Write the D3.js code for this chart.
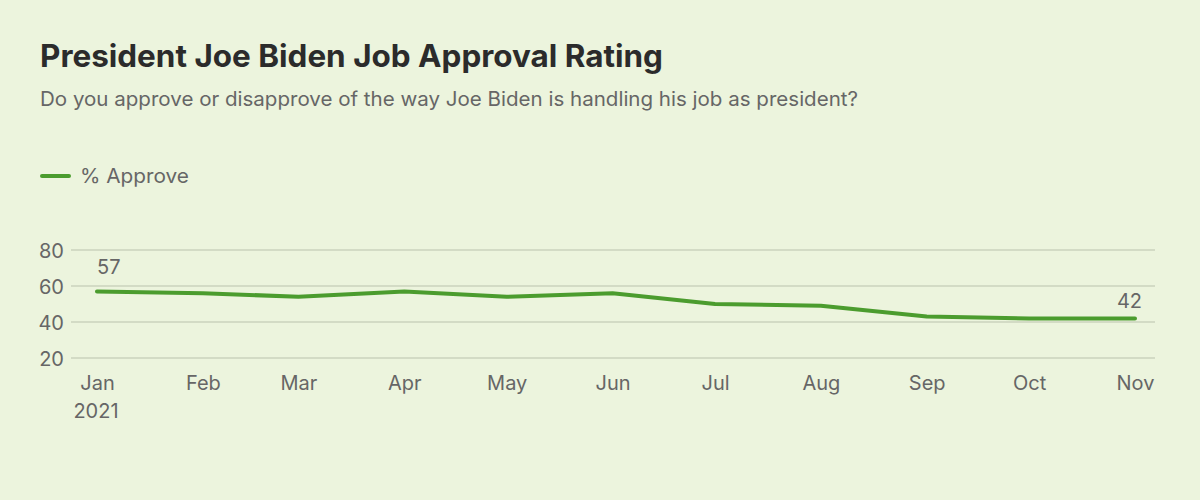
<!DOCTYPE html>
<html>
<head>
<meta charset="utf-8">
<script src="https://cdn.jsdelivr.net/npm/d3@7"></script>
<style>
  html, body { margin: 0; padding: 0; background: #ecf4dd; }
  svg { display: block; font-family: Inter, "Noto Sans", sans-serif; }
</style>
</head>
<body>
<svg id="chart" width="1200" height="500"></svg>
<script>
const months = ["Jan", "Feb", "Mar", "Apr", "May", "Jun", "Jul", "Aug", "Sep", "Oct", "Nov"];
const dates = ["2021-01-01","2021-02-01","2021-03-01","2021-04-01","2021-05-01","2021-06-01","2021-07-01","2021-08-01","2021-09-01","2021-10-01","2021-11-01"];
const approve = [57, 56, 54, 57, 54, 56, 50, 49, 43, 42, 42];
const yTicks = [20, 40, 60, 80];

const parse = d3.timeParse("%Y-%m-%d");
const data = dates.map((d, i) => ({ date: parse(d), value: approve[i], month: months[i] }));

const svg = d3.select("#chart");
svg.append("rect").attr("width", 1200).attr("height", 500).attr("fill", "#ecf4dd");

svg.append("text").attr("x", 40).attr("y", 67)
  .attr("font-size", 31).attr("font-weight", 700).attr("fill", "#2b2b2b")
  .attr("textLength", 623).attr("lengthAdjust", "spacingAndGlyphs")
  .text("President Joe Biden Job Approval Rating");
svg.append("text").attr("x", 40).attr("y", 106)
  .attr("font-size", 20).attr("fill", "#666666")
  .attr("textLength", 818).attr("lengthAdjust", "spacingAndGlyphs")
  .text("Do you approve or disapprove of the way Joe Biden is handling his job as president?");

// legend
svg.append("line").attr("x1", 42).attr("x2", 69).attr("y1", 176).attr("y2", 176)
  .attr("stroke", "#4b9c2e").attr("stroke-width", 4).attr("stroke-linecap", "round");
svg.append("text").attr("x", 80).attr("y", 183)
  .attr("font-size", 20).attr("fill", "#666666")
  .attr("textLength", 109).attr("lengthAdjust", "spacingAndGlyphs")
  .text("% Approve");

const x = d3.scaleTime().domain([data[0].date, data[data.length - 1].date]).range([97, 1135]);
const y = d3.scaleLinear().domain([20, 80]).range([358, 250]);

// grid
const yAxis = d3.axisLeft(y).tickValues(yTicks).tickSize(0).tickPadding(0);
const gy = svg.append("g").attr("transform", "translate(64,0)").call(yAxis);
gy.select(".domain").remove();
gy.selectAll("text").attr("font-size", 20).attr("fill", "#666666").attr("font-family", "Inter, 'Noto Sans', sans-serif").attr("dy", "0.35em");
svg.append("g").selectAll("line").data(yTicks).join("line")
  .attr("x1", 71).attr("x2", 1155)
  .attr("y1", d => y(d)).attr("y2", d => y(d))
  .attr("stroke", "#d3dbc5").attr("stroke-width", 2);

// x axis
const xAxis = d3.axisBottom(x).tickValues(data.map(d => d.date))
  .tickFormat((d, i) => months[i]).tickSize(0).tickPadding(0);
const gx = svg.append("g").attr("transform", "translate(0,390)").call(xAxis);
gx.select(".domain").remove();
gx.selectAll("text").attr("font-size", 20).attr("fill", "#666666").attr("font-family", "Inter, 'Noto Sans', sans-serif").attr("dy", 0);
svg.append("text").attr("x", x(data[0].date) - 1).attr("y", 418).attr("text-anchor", "middle")
  .attr("font-size", 20).attr("fill", "#666666").text("2021");

// line
const line = d3.line().x(d => x(d.date)).y(d => y(d.value));
svg.append("path").datum(data).attr("d", line)
  .attr("fill", "none").attr("stroke", "#4b9c2e").attr("stroke-width", 4)
  .attr("stroke-linecap", "round").attr("stroke-linejoin", "round");

// labels
const first = data[0], last = data[data.length - 1];
svg.append("text").attr("x", x(first.date)).attr("y", y(first.value) - 17).attr("text-anchor", "start")
  .attr("font-size", 20).attr("fill", "#666666").text(first.value);
svg.append("text").attr("x", x(last.date) + 7).attr("y", y(last.value) - 10).attr("text-anchor", "end")
  .attr("font-size", 20).attr("fill", "#666666").text(last.value);
</script>
</body>
</html>
